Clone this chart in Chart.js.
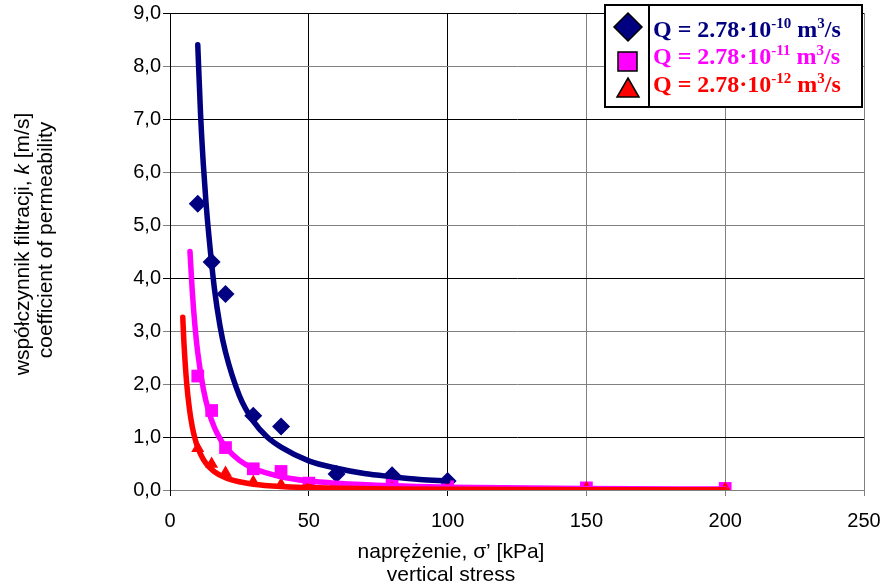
<!DOCTYPE html>
<html>
<head>
<meta charset="utf-8">
<script src="https://cdn.jsdelivr.net/npm/chart.js@4.4.1/dist/chart.umd.min.js"></script>
<style>
  body { margin: 0; background: #fff; }
  #wrap { width: 884px; height: 586px; }
</style>
</head>
<body>
<div id="wrap"><canvas id="chart" width="884" height="586"></canvas></div>
<script>
// --- dane pomiarowe ---
const xTicks = [0, 50, 100, 150, 200, 250];
const yTicks = [0, 1, 2, 3, 4, 5, 6, 7, 8, 9];

// Q = 2.78e-10 (granatowy, romby)
const q10X = [10, 15, 20, 30, 40, 60, 80, 100];
const q10Y = [5.4, 4.3, 3.7, 1.4, 1.2, 0.3, 0.28, 0.17];
// Q = 2.78e-11 (magenta, kwadraty)
const q11X = [10, 15, 20, 30, 40, 50, 60, 80, 100, 150, 200];
const q11Y = [2.15, 1.5, 0.8, 0.4, 0.35, 0.13, 0.05, 0.09, 0.06, 0.04, 0.03];
// Q = 2.78e-12 (czerwony, trojkaty)
const q12X = [10, 15, 20, 30, 40, 50, 60, 80, 100, 150, 200];
const q12Y = [0.79, 0.49, 0.32, 0.15, 0.1, 0.08, 0.03, 0.03, 0.03, 0.03, 0.02];

// linie trendu (odczytane punkty krzywych)
const trend10X = [10, 11, 12, 13, 14, 16, 18, 20, 25, 30, 35, 40, 50, 60, 70, 80, 90, 100];
const trend10Y = [8.4, 7.1, 6.15, 5.4, 4.8, 3.8, 3.1, 2.6, 1.78, 1.3, 1.0, 0.81, 0.55, 0.41, 0.31, 0.25, 0.2, 0.17];
const trend11X = [7.2, 8, 9, 10, 12, 14, 16, 18, 20, 25, 30, 40, 50, 60, 80, 100, 150, 200];
const trend11Y = [4.5, 3.77, 3.09, 2.59, 1.91, 1.47, 1.18, 0.97, 0.81, 0.56, 0.41, 0.25, 0.17, 0.128, 0.079, 0.054, 0.027, 0.017];
const trend12X = [4.6, 5, 6, 7, 8, 9, 10, 12, 14, 16, 20, 25, 30, 40, 50, 60, 80, 100, 150, 200];
const trend12Y = [3.26, 2.8, 2.02, 1.53, 1.2, 0.97, 0.8, 0.58, 0.44, 0.345, 0.23, 0.155, 0.11, 0.066, 0.045, 0.032, 0.019, 0.013, 0.006, 0.004];

const NAVY = '#000080', MAG = '#FF00FF', RED = '#FF0000';
const FONT = "'Liberation Sans', Arial, sans-serif";

function pts(xs, ys) { return xs.map((x, i) => ({ x: x, y: ys[i] })); }

function markerSet(xs, ys, color, style, r, order) {
  return {
    data: pts(xs, ys), showLine: false, order: order,
    pointStyle: style, pointRadius: r, pointHoverRadius: r,
    backgroundColor: color, borderColor: color, borderWidth: 0
  };
}
function trendSet(xs, ys, color, order) {
  return {
    data: pts(xs, ys), showLine: true, order: order,
    pointRadius: 0, borderColor: color, borderWidth: 5.5,
    cubicInterpolationMode: 'monotone', borderCapStyle: 'round', borderJoinStyle: 'round'
  };
}

// tekst z indeksami gornymi
function drawRich(ctx, x, y, parts, big, small, color) {
  ctx.fillStyle = color;
  ctx.textBaseline = 'alphabetic';
  ctx.textAlign = 'left';
  parts.forEach(p => {
    ctx.font = p.sup ? small : big;
    ctx.fillText(p.t, x, p.sup ? y - 9 : y);
    x += ctx.measureText(p.t).width;
  });
}

const extras = {
  id: 'extras',
  afterDraw(chart) {
    const ctx = chart.ctx;
    ctx.save();
    // tytul osi Y
    ctx.translate(23, 244);
    ctx.rotate(-Math.PI / 2);
    ctx.fillStyle = '#000';
    ctx.textBaseline = 'middle';
    ctx.textAlign = 'left';
    const seg = [
      { t: 'współczynnik filtracji, ', f: '21px ' + FONT },
      { t: 'k', f: 'italic 21px ' + FONT },
      { t: ' [m/s]', f: '21px ' + FONT }
    ];
    let w = 0;
    seg.forEach(s => { ctx.font = s.f; w += ctx.measureText(s.t).width; });
    let px = -w / 2;
    seg.forEach(s => { ctx.font = s.f; ctx.fillText(s.t, px, 0); px += ctx.measureText(s.t).width; });
    ctx.font = '21px ' + FONT;
    ctx.textAlign = 'center';
    ctx.fillText('coefficient of permeability', 4, 23);
    ctx.restore();

    // tytul osi X
    ctx.save();
    ctx.fillStyle = '#000';
    ctx.font = '21px ' + FONT;
    ctx.textAlign = 'center';
    ctx.textBaseline = 'alphabetic';
    ctx.fillText('naprężenie, σ’ [kPa]', 451, 558);
    ctx.fillText('vertical stress', 451, 581);
    ctx.restore();

    // legenda
    ctx.save();
    ctx.fillStyle = '#fff';
    ctx.fillRect(605, 5, 257, 102);
    ctx.strokeStyle = '#000';
    ctx.lineWidth = 2;
    ctx.strokeRect(605, 5, 257, 102);
    ctx.beginPath();
    ctx.moveTo(649, 5); ctx.lineTo(649, 107);
    ctx.stroke();
    ctx.lineWidth = 1.5;
    // romb
    ctx.fillStyle = NAVY;
    ctx.beginPath();
    ctx.moveTo(628, 13); ctx.lineTo(642, 27); ctx.lineTo(628, 41); ctx.lineTo(614, 27); ctx.closePath();
    ctx.fill(); ctx.stroke();
    // kwadrat
    ctx.fillStyle = MAG;
    ctx.fillRect(618, 52, 19, 19); ctx.strokeRect(618, 52, 19, 19);
    // trojkat
    ctx.fillStyle = RED;
    ctx.beginPath();
    ctx.moveTo(628, 78); ctx.lineTo(639, 97); ctx.lineTo(617, 97); ctx.closePath();
    ctx.fill(); ctx.stroke();

    const big = "bold 24px 'Liberation Serif', 'Times New Roman', serif";
    const small = "bold 15px 'Liberation Serif', 'Times New Roman', serif";
    const rows = [['-10', NAVY, 37], ['-11', MAG, 64], ['-12', RED, 92]];
    rows.forEach(r => {
      drawRich(ctx, 653, r[2], [
        { t: 'Q = 2.78·10' }, { t: r[0], sup: true }, { t: ' m' }, { t: '3', sup: true }, { t: '/s' }
      ], big, small, r[1]);
    });
    ctx.restore();
  }
};

const GRAY = '#808080';

new Chart(document.getElementById('chart'), {
  type: 'scatter',
  data: {
    datasets: [
      markerSet(q10X, q10Y, NAVY, 'rectRot', 9, 6),
      markerSet(q11X, q11Y, MAG, 'rect', 9, 5),
      markerSet(q12X, q12Y, RED, 'triangle', 7.5, 4),
      trendSet(trend10X, trend10Y, NAVY, 3),
      trendSet(trend11X, trend11Y, MAG, 2),
      trendSet(trend12X, trend12Y, RED, 1)
    ]
  },
  options: {
    responsive: false,
    animation: false,
    layout: { padding: { top: 13, right: 20, left: 0, bottom: 0 } },
    plugins: { legend: { display: false }, tooltip: { enabled: false } },
    scales: {
      x: {
        type: 'linear', min: 0, max: 250,
        afterBuildTicks: s => { s.ticks = xTicks.map(v => ({ value: v })); },
        afterFit: s => { s.height = 96; s.paddingRight = 0; },
        ticks: { color: '#000', font: { family: FONT, size: 20 }, padding: 13 },
        grid: {
          color: c => (c.tick && [0, 50, 100].includes(c.tick.value)) ? '#000' : GRAY,
          tickLength: 6, lineWidth: 1
        },
        border: { color: GRAY }
      },
      y: {
        type: 'linear', min: 0, max: 9,
        afterBuildTicks: s => { s.ticks = yTicks.map(v => ({ value: v })); },
        afterFit: s => { s.width = 170; s.paddingTop = 0; s.paddingBottom = 0; },
        ticks: {
          color: '#000', font: { family: FONT, size: 20 }, padding: 2,
          callback: v => v.toFixed(1).replace('.', ',')
        },
        grid: {
          color: c => (c.tick && [1, 4, 7, 9].includes(c.tick.value)) ? '#000' : GRAY,
          tickLength: 7, lineWidth: 1
        },
        border: { color: '#000' }
      }
    }
  },
  plugins: [extras]
});
</script>
</body>
</html>
